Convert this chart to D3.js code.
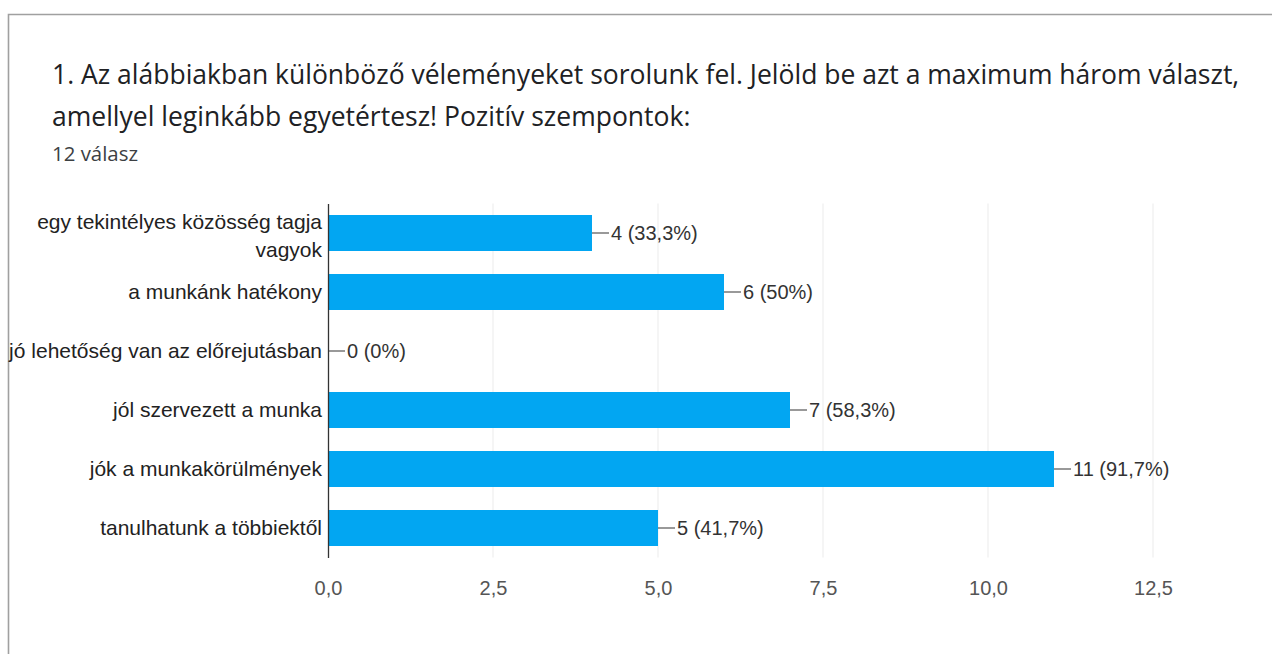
<!DOCTYPE html>
<html>
<head>
<meta charset="utf-8">
<script src="https://cdn.jsdelivr.net/npm/d3@7"></script>
<style>
  body { margin: 0; background: #fff; }
  svg { display: block; }
</style>
</head>
<body>
<div id="chart"></div>
<script>
// data
const titleLines = [
  "1. Az alábbiakban különböző véleményeket sorolunk fel. Jelöld be azt a maximum három választ,",
  "amellyel leginkább egyetértesz! Pozitív szempontok:"
];
const subtitle = "12 válasz";
const categories = [
  "egy tekintélyes közösség tagja vagyok",
  "a munkánk hatékony",
  "jó lehetőség van az előrejutásban",
  "jól szervezett a munka",
  "jók a munkakörülmények",
  "tanulhatunk a többiektől"
];
const counts = [4, 6, 0, 7, 11, 5];
const percentLabels = ["33,3%", "50%", "0%", "58,3%", "91,7%", "41,7%"];
const xTicks = [0, 2.5, 5, 7.5, 10, 12.5];

const width = 1272, height = 654;
const margin = { top: 203.5, right: 119, bottom: 96.5, left: 328 };
const barColor = "#02a6f2";
const labelFont = "Arial, 'Liberation Sans', sans-serif";
const titleFont = "'Open Sans', Roboto, sans-serif";

const svg = d3.select("#chart").append("svg")
  .attr("width", width)
  .attr("height", height);

// card border (only top and left edges are in frame)
svg.append("path")
  .attr("d", `M8.5,${height} V14.5 H${width}`)
  .attr("fill", "none")
  .attr("stroke", "#a0a0a0")
  .attr("stroke-width", 1.6);

// title, sized so the first line spans the same width as in the reference
const title = svg.append("g")
  .attr("font-family", titleFont)
  .attr("fill", "#202124");
const titleText = title.selectAll("text.title")
  .data(titleLines)
  .join("text")
  .attr("class", "title")
  .attr("x", 52)
  .attr("y", (d, i) => 84 + i * 42)
  .style("font-size", "24px")
  .text(d => d);
const firstW = titleText.node().getComputedTextLength();
titleText.style("font-size", (24 * 1188 / firstW) + "px");

const sub = title.append("text")
  .attr("x", 52)
  .attr("y", 161)
  .attr("fill", "#3c4043")
  .style("font-size", "18px")
  .text(subtitle);
sub.style("font-size", (18 * 86 / sub.node().getComputedTextLength()) + "px");

const locale = d3.formatLocale({ decimal: ",", thousands: " ", grouping: [3], currency: ["", ""] });
const fmt = locale.format(".1f");

const x = d3.scaleLinear()
  .domain([0, 12.5])
  .range([margin.left, margin.left + 825]);

const y = d3.scaleBand()
  .domain(categories)
  .range([margin.top, height - margin.bottom])
  .paddingInner(0.39)
  .paddingOuter(0.195);

const data = categories.map((c, i) => ({ category: c, count: counts[i], pct: percentLabels[i] }));

// gridlines
svg.append("g")
  .selectAll("line")
  .data(xTicks.slice(1))
  .join("line")
  .attr("x1", d => x(d))
  .attr("x2", d => x(d))
  .attr("y1", margin.top)
  .attr("y2", height - margin.bottom)
  .attr("stroke", "#ebebeb")
  .attr("stroke-width", 1);

// bars
svg.append("g")
  .selectAll("rect")
  .data(data)
  .join("rect")
  .attr("x", x(0))
  .attr("y", d => y(d.category))
  .attr("width", d => x(d.count) - x(0))
  .attr("height", y.bandwidth())
  .attr("fill", barColor);

// value annotations with leader lines
const ann = svg.append("g").selectAll("g")
  .data(data)
  .join("g")
  .attr("transform", d => `translate(${x(d.count)},${y(d.category) + y.bandwidth() / 2})`);
ann.append("line")
  .attr("x1", 0)
  .attr("x2", 17)
  .attr("stroke", "#555")
  .attr("stroke-width", 1.2);
ann.append("text")
  .attr("x", 19)
  .attr("dy", "0.35em")
  .attr("font-family", labelFont)
  .style("font-size", "20px")
  .attr("fill", "#333")
  .text(d => `${d.count} (${d.pct})`);

// x axis (tick labels only)
const xAxis = svg.append("g")
  .attr("transform", `translate(0,${height - margin.bottom})`)
  .call(d3.axisBottom(x).tickValues(xTicks).tickFormat(fmt).tickSize(0).tickPadding(23));
xAxis.select(".domain").remove();
xAxis.selectAll("text")
  .attr("font-family", labelFont)
  .style("font-size", "20px")
  .attr("fill", "#555");

// y axis
const yAxis = svg.append("g")
  .attr("transform", `translate(${margin.left},0)`)
  .call(d3.axisLeft(y).tickSize(0).tickPadding(6));
yAxis.select(".domain")
  .attr("stroke", "#333")
  .attr("stroke-width", 1.3);
yAxis.selectAll("text")
  .attr("font-family", labelFont)
  .style("font-size", "21px")
  .attr("fill", "#222")
  .call(wrap, 318);

function wrap(texts, maxWidth) {
  texts.each(function () {
    const text = d3.select(this);
    const words = text.text().split(/\s+/);
    const lineHeight = 28;
    const xPos = text.attr("x");
    text.text(null).attr("dy", null);
    const lines = [[]];
    const probe = text.append("tspan").attr("x", xPos);
    words.forEach(w => {
      const cur = lines[lines.length - 1];
      probe.text(cur.concat(w).join(" "));
      if (probe.node().getComputedTextLength() > maxWidth && cur.length) {
        lines.push([w]);
      } else {
        cur.push(w);
      }
    });
    probe.remove();
    const offset = -(lines.length - 1) * lineHeight / 2;
    lines.forEach((l, i) => {
      text.append("tspan")
        .attr("x", xPos)
        .attr("y", offset + i * lineHeight + 7 + (lines.length > 1 ? 3 : 0))
        .text(l.join(" "));
    });
  });
}
</script>
</body>
</html>
